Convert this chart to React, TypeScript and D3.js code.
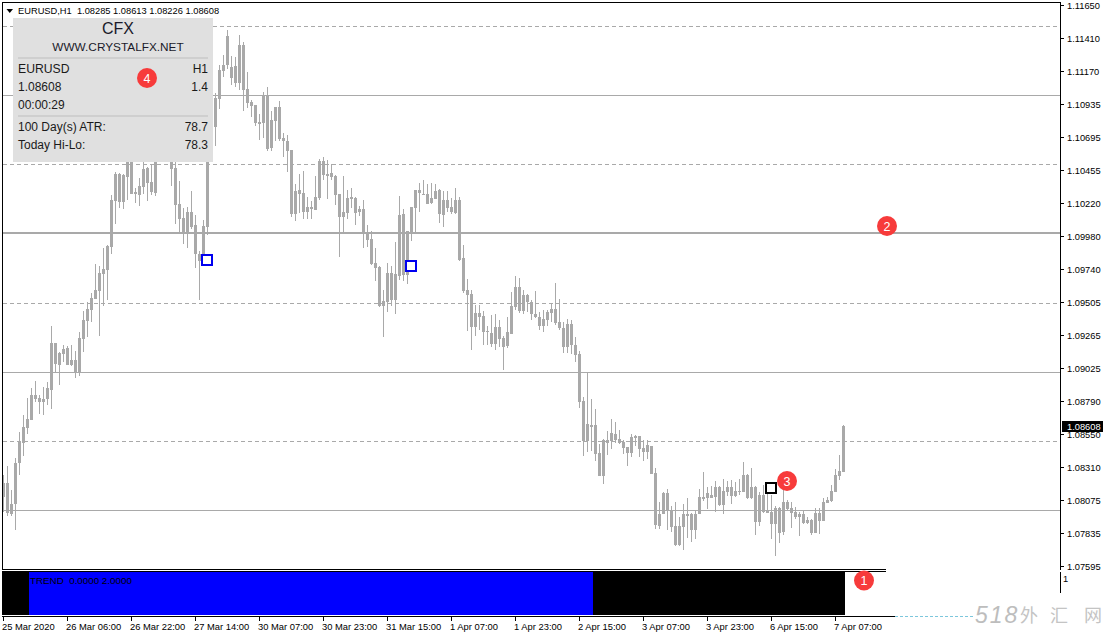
import React from "react";
import * as d3 from "d3";

const basePrice = 1.07;
// points (1e-5) above basePrice
const highs = [
1253,1318,1144,1376,1564,1686,1809,1882,1932,1831,
1889,1925,2330,2207,2142,2192,2185,2192,2149,2286,
2438,2503,2568,2778,2763,2893,2915,3277,3443,3436,
3428,3638,3674,3327,3399,3515,3479,3493,3638,3782,
3819,3746,3674,3602,3378,3183,3190,3305,3132,2872,
3096,3674,4000,4014,4216,4288,4469,4281,4274,4433,
4382,4166,3963,3927,3862,4021,4057,3884,3913,3956,
3725,3710,3602,3356,3428,3450,3262,3233,3414,3537,
3551,3530,3501,3421,3284,3414,3313,3327,3262,3197,
3240,3060,3016,2893,2763,2590,2785,2763,2937,3269,
3175,3016,3190,3313,3363,3385,3356,3363,3356,3320,
3305,3305,3255,3327,3262,2915,2669,2590,2481,2481,
2438,2330,2409,2416,2373,2257,2395,2575,2691,2677,
2590,2561,2518,2583,2431,2445,2445,2496,2640,2525,
2359,2380,2373,2250,2149,1817,1990,1802,1730,1477,
1513,1571,1657,1636,1578,1506,1455,1549,1542,1535,
1506,1506,1462,1303,1058,1130,1152,1029,1058,949,
1043,1086,978,1000,1152,1274,1166,1173,1209,1173,
1224,1209,1217,1202,1224,1347,1260,1303,1173,1130,
1180,1195,1108,1029,1021,1144,1072,1058,1021,985,
1000,949,935,1014,1014,1086,1094,1180,1296,1397,1614];
const bodyHighs = [
1195,1195,1043,1339,1491,1600,1657,1831,1831,1809,
1802,1882,2207,2207,2135,2163,2171,2084,2084,2243,
2373,2453,2532,2590,2713,2742,2908,3240,3428,3428,
3421,3602,3602,3298,3342,3464,3472,3370,3602,3746,
3782,3710,3638,3472,3211,3110,3154,3154,3060,2850,
3053,3602,3963,3978,4180,4216,4426,4202,4209,4361,
4361,4043,3949,3927,3804,3999,3992,3819,3913,3913,
3689,3667,3602,3305,3313,3291,3190,3190,3262,3522,
3522,3428,3436,3414,3284,3154,3255,3262,3255,3175,
3175,3002,2959,2785,2756,2510,2713,2713,2706,3132,
3139,3016,3190,3313,3313,3284,3284,3255,3305,3313,
3240,3240,3190,3240,3240,2821,2590,2561,2424,2424,
2402,2294,2279,2322,2322,2243,2286,2474,2612,2612,
2554,2554,2503,2416,2395,2380,2431,2453,2453,2359,
2315,2344,2344,2192,2127,1788,1621,1614,1614,1412,
1506,1506,1556,1549,1513,1491,1455,1527,1535,1535,
1448,1470,1462,1267,971,1123,1123,993,884,884,
971,971,971,971,1094,1094,1123,1108,1166,1166,
1137,1166,1166,1137,1137,1253,1253,1166,1166,1108,
1108,1000,985,1014,1014,1058,1058,1014,985,971,
971,928,928,978,978,1058,1072,1137,1253,1282,1607];
const bodyLows = [
1094,978,971,1043,1339,1484,1592,1650,1802,1780,
1780,1802,1867,2055,2048,2127,2048,2048,1997,1997,
2236,2366,2445,2525,2583,2706,2734,2901,3233,3226,
3226,3407,3284,3284,3277,3334,3363,3298,3291,3602,
3638,3602,3464,3204,3103,3009,3009,3045,2850,2800,
2800,3045,3782,3768,3970,4173,4216,4122,4086,4086,
4035,3942,3920,3797,3790,3797,3609,3616,3811,3681,
3667,3595,3139,3139,3284,3154,3154,3175,3168,3255,
3421,3414,3407,3277,3118,3118,3146,3248,3146,3154,
3009,2951,2778,2749,2474,2474,2503,2518,2518,2691,
2698,2698,3002,3183,3291,3277,3211,3219,3248,3139,
3132,3183,3154,3146,2807,2583,2554,2322,2322,2395,
2286,2286,2200,2200,2236,2178,2185,2272,2467,2438,
2438,2503,2416,2395,2330,2330,2373,2424,2351,2315,
2178,2178,2192,2120,1780,1498,1498,1600,1405,1245,
1245,1484,1498,1506,1484,1448,1412,1412,1520,1441,
1419,1419,1260,891,884,971,993,877,747,747,
877,956,855,855,971,1079,1086,1086,1094,1036,
1036,1130,1101,1101,1130,1130,1086,1086,913,913,
985,978,899,899,834,841,1007,978,949,949,
906,906,834,834,920,920,1050,1065,1130,1245,1274];
const lows = [
985,956,956,855,1253,1390,1549,1650,1780,1694,
1686,1759,1730,1997,1903,2069,2048,2041,1954,1968,
2142,2250,2359,2525,2257,2474,2518,2850,3067,3183,
3175,3240,3284,3219,3197,3284,3233,3277,3269,3544,
3566,3530,3342,3067,3009,2922,2893,3031,2749,2518,
2763,2987,3746,3631,3898,4129,4187,4072,4057,4035,
3884,3905,3840,3775,3674,3689,3595,3595,3667,3667,
3551,3443,3118,3089,3146,3103,3103,3103,3168,3240,
3385,3248,3385,3204,2828,3002,3103,3183,3060,3125,
2893,2901,2771,2655,2467,2250,2431,2474,2416,2662,
2655,2633,2944,3002,3154,3277,3211,3211,3248,3074,
3045,3154,3139,3139,2800,2568,2294,2156,2257,2301,
2192,2192,2178,2156,2178,2012,2171,2272,2445,2424,
2416,2431,2373,2387,2301,2286,2330,2359,2337,2301,
2135,2135,2127,2069,1737,1390,1419,1426,1354,1245,
1188,1397,1441,1484,1477,1405,1318,1383,1462,1383,
1354,1368,1260,862,862,971,855,841,740,740,
711,797,768,790,971,1065,1007,1086,985,1029,
971,1101,1043,1094,1108,1130,1079,1079,819,884,
978,978,790,667,761,819,1000,870,935,812,
899,899,819,834,826,920,1050,1058,1130,1217,1274];

const priceTicks = ["1.11650","1.11410","1.11170","1.10935","1.10695","1.10455","1.10220","1.09980","1.09740","1.09505","1.09265","1.09025","1.08790","1.08550","1.08310","1.08075","1.07835","1.07595"];
const timeLabels = ["25 Mar 2020","26 Mar 06:00","26 Mar 22:00","27 Mar 14:00","30 Mar 07:00","30 Mar 23:00","31 Mar 15:00","1 Apr 07:00","1 Apr 23:00","2 Apr 15:00","3 Apr 07:00","3 Apr 23:00","6 Apr 15:00","7 Apr 07:00"];
const timeTickEvery = 16;
const solidLevels = [1.10999, 1.08997, 1.08];
const dashedLevels = [1.11498, 1.10501, 1.09496, 1.08498];
const majorLevel = 1.10009;
const blueMarks = [[51, 2807], [102, 2763]];
const blackMarks = [[192, 1159]];
const trendBlueRange = [6, 147];
const lastPrice = "1.08608";
const headerText = "EURUSD,H1  1.08285 1.08613 1.08226 1.08608";
const trendText = "TREND  0.0000 2.0000";
const callouts = [["1", 864, 580.5], ["2", 887, 226], ["3", 787, 481], ["4", 147, 78]];
const watermarkDigits = "518";
const watermarkChars = [["外", 1020], ["汇", 1050], ["网", 1084]];

const GREY = "#a9a9a9";
const UI = "'Liberation Sans', Arial, sans-serif";

export default function App() {
  const y = d3.scaleLinear().domain([1.1165, 1.07595]).range([5, 566]);
  const x = d3.scaleLinear().domain([0, 210]).range([3.5, 843.5]);
  const py = (p: number) => Math.round(y(basePrice + p / 1e5));
  const gy = (p: number) => Math.round(y(p));
  return (
    <svg width={1107} height={637} style={{ position: "absolute", left: 0, top: 0, background: "#fff", fontFamily: UI }}>
      {/* grid */}
      {dashedLevels.map((l) => (
        <line key={l} x1={3} x2={1060} y1={gy(l) + 0.5} y2={gy(l) + 0.5} stroke={GREY} strokeDasharray="4 3" />
      ))}
      {solidLevels.map((l) => (
        <line key={l} x1={3} x2={1060} y1={gy(l) + 0.5} y2={gy(l) + 0.5} stroke={GREY} />
      ))}
      <line x1={3} x2={1060} y1={gy(majorLevel) + 0.5} y2={gy(majorLevel) + 0.5} stroke={GREY} strokeWidth={2} shapeRendering="crispEdges" />

      {/* candles */}
      <g shapeRendering="crispEdges" fill={GREY}>
        {highs.map((h, i) => {
          const cx = x(i);
          return (
            <g key={i}>
              <rect x={cx - 0.5} width={1} y={py(h)} height={Math.max(1, py(lows[i]) - py(h))} />
              <rect x={cx - 1.5} width={3} y={py(bodyHighs[i])} height={Math.max(1, py(bodyLows[i]) - py(bodyHighs[i]))} />
            </g>
          );
        })}
      </g>

      {/* square marks */}
      {blueMarks.map(([i, p]) => (
        <rect key={i} x={Math.floor(x(i)) - 5} y={py(p) - 5} width={10} height={10} fill="#fff" stroke="#0000f0" strokeWidth={2} />
      ))}
      {blackMarks.map(([i, p]) => (
        <rect key={i} x={Math.floor(x(i)) - 5} y={py(p) - 5} width={10} height={10} fill="#fff" stroke="#000" strokeWidth={2} />
      ))}

      {/* frame */}
      <g stroke="#000" fill="none" shapeRendering="crispEdges">
        <line x1={2.5} x2={2.5} y1={2} y2={570} />
        <line x1={2} x2={1061} y1={2.5} y2={2.5} />
        <line x1={1060.5} x2={1060.5} y1={2} y2={570} />
        <line x1={1060.5} x2={1060.5} y1={572} y2={593} />
        <line x1={2} x2={886} y1={569.5} y2={569.5} />
        <line x1={2} x2={886} y1={571.5} y2={571.5} />
        <line x1={2} x2={895} y1={616.5} y2={616.5} />
      </g>
      <line x1={895} x2={973} y1={616.5} y2={616.5} stroke="#7cc7dc" strokeDasharray="3 2" />

      {/* indicator strip */}
      <rect x={2} y={572} width={843} height={43} fill="#000" />
      <rect x={x(trendBlueRange[0]) + 1.5} y={572} width={x(trendBlueRange[1]) - x(trendBlueRange[0])} height={43} fill="#0000ff" />
      <text x={30} y={584} fontSize={9.8} fill="#000" style={{ whiteSpace: "pre" }}>{trendText}</text>

      {/* price axis */}
      {priceTicks.map((t) => {
        const yy = gy(+t);
        return (
          <g key={t}>
            <line x1={1061} x2={1064} y1={yy + 0.5} y2={yy + 0.5} stroke="#000" />
            <text x={1067} y={yy + 3.5} fontSize={9.3} fill="#000">{t}</text>
          </g>
        );
      })}
      <rect x={1062} y={421} width={41} height={11} fill="#000" />
      <text x={1067} y={430} fontSize={9.3} fill="#fff">{lastPrice}</text>
      <text x={1063} y={582} fontSize={9.3} fill="#000">1</text>

      {/* time axis */}
      {timeLabels.map((t, i) => {
        const tx = Math.floor(x(i * timeTickEvery));
        return (
          <g key={t}>
            <line x1={tx + 0.5} x2={tx + 0.5} y1={617} y2={621} stroke="#000" />
            <text x={tx - 1} y={630} fontSize={9.4} fill="#000">{t}</text>
          </g>
        );
      })}

      {/* header */}
      <path d="M6.5 9 L13 9 L9.75 13 Z" fill="#000" />
      <text x={18} y={14} fontSize={9.3} fill="#000" style={{ whiteSpace: "pre" }}>{headerText}</text>

      {/* info panel */}
      <rect x={13} y={18} width={200} height={144} fill="#e0e0e0" />
      <text x={118} y={34} textAnchor="middle" fontSize={16} fill="#1a1a2a">CFX</text>
      <text x={118} y={51} textAnchor="middle" fontSize={11.8} fill="#1a1a2a">WWW.CRYSTALFX.NET</text>
      <rect x={18} y={57} width={190} height={2} fill="#cfcfcf" />
      <text x={18} y={73} fontSize={12.2} fill="#1a1a1a">EURUSD</text>
      <text x={208} y={73} textAnchor="end" fontSize={12} fill="#1a1a1a">H1</text>
      <text x={18} y={91} fontSize={12} fill="#1a1a1a">1.08608</text>
      <text x={208} y={91} textAnchor="end" fontSize={12} fill="#1a1a1a">1.4</text>
      <text x={18} y={109} fontSize={12} fill="#1a1a1a">00:00:29</text>
      <rect x={18} y={115} width={190} height={2} fill="#cfcfcf" />
      <text x={18} y={131} fontSize={12} fill="#1a1a1a">100 Day(s) ATR:</text>
      <text x={208} y={131} textAnchor="end" fontSize={12} fill="#1a1a1a">78.7</text>
      <text x={18} y={149} fontSize={12} fill="#1a1a1a">Today Hi-Lo:</text>
      <text x={208} y={149} textAnchor="end" fontSize={12} fill="#1a1a1a">78.3</text>

      {/* callouts */}
      {callouts.map(([n, cx, cy]) => (
        <g key={n as string}>
          <circle cx={cx as number} cy={cy as number} r={10} fill="#f73b3b" />
          <text x={cx as number} y={(cy as number) + 4.5} textAnchor="middle" fontSize={12.5} fill="#fff">{n}</text>
        </g>
      ))}

      {/* watermark */}
      <text x={975} y={623} fontSize={23} fontStyle="italic" fill="#bdbdbd" letterSpacing={2}>{watermarkDigits}</text>
      {watermarkChars.map(([c, cx]) => (
        <text key={c as string} x={cx as number} y={622} fontSize={18} fill="#c4c4c4" fontFamily="'Noto Sans CJK SC', sans-serif">{c}</text>
      ))}
    </svg>
  );
}
